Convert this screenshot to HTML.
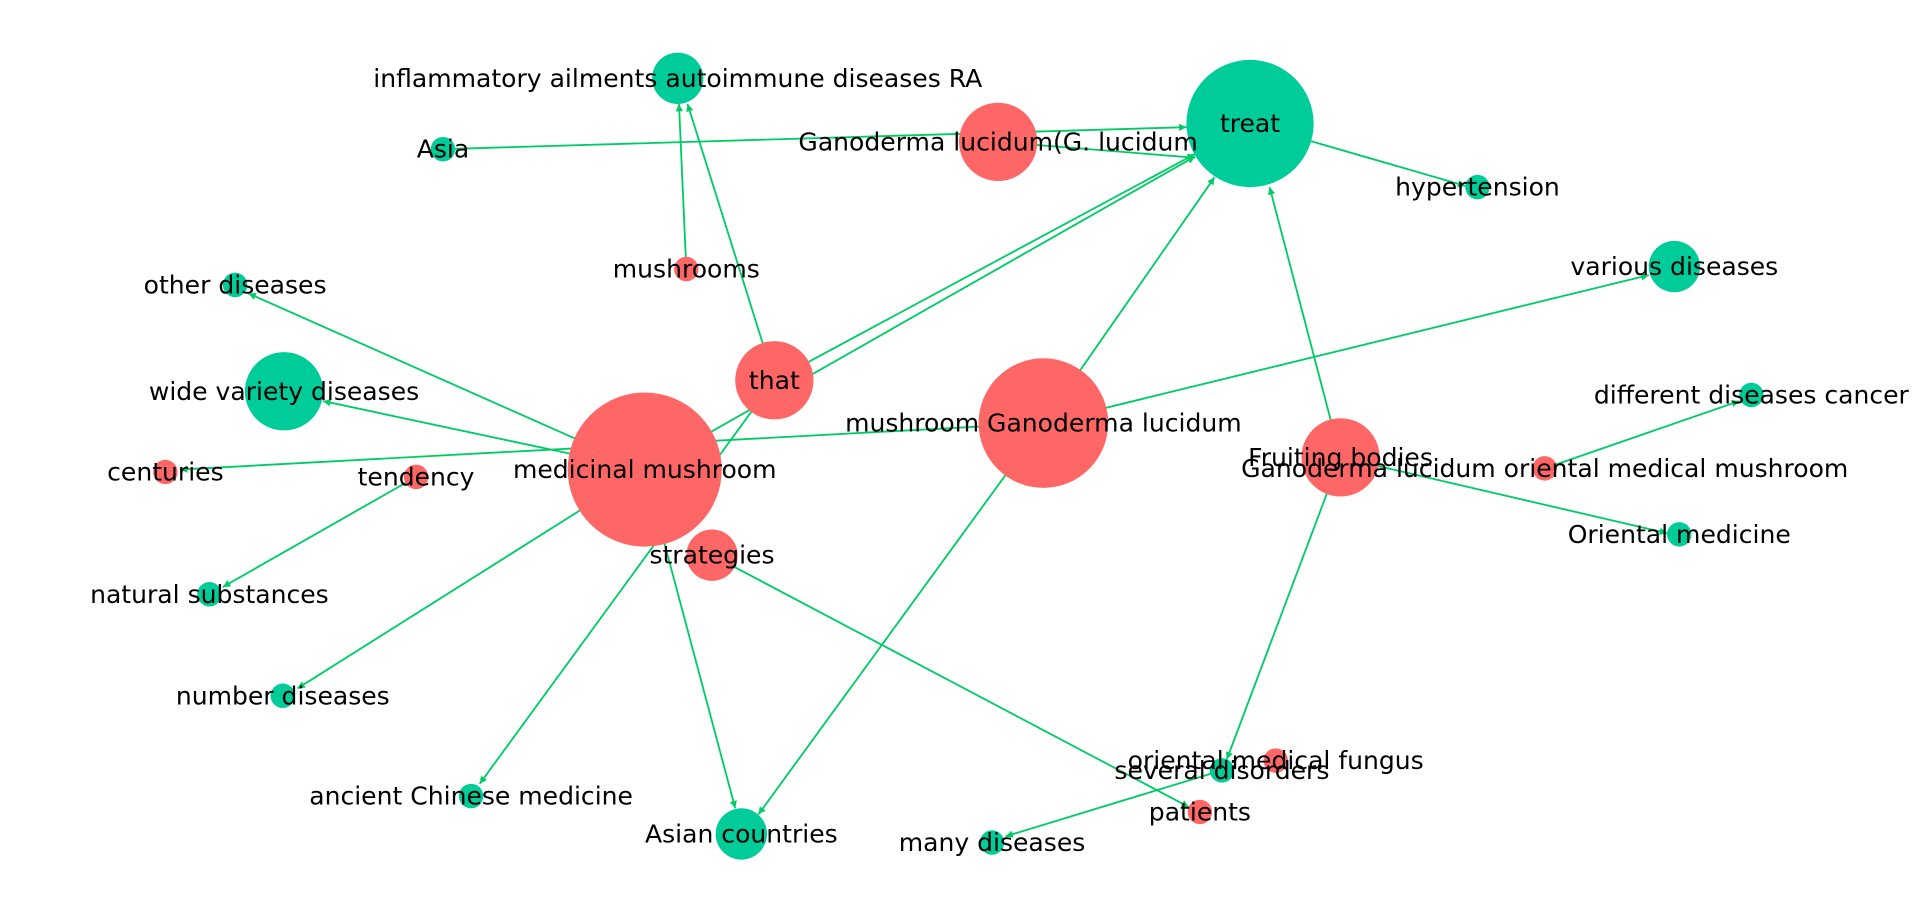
<!DOCTYPE html>
<html><head><meta charset="utf-8"><style>
html,body{margin:0;padding:0;background:#fff;width:1918px;height:922px;overflow:hidden}
svg text{font-family:"DejaVu Sans","Liberation Sans",sans-serif;font-size:20.5px;fill:#000;text-anchor:middle;dominant-baseline:central}
</style></head><body>
<svg width="1918" height="922" viewBox="0 0 1568 754" xmlns="http://www.w3.org/2000/svg">
<defs><marker id="a" viewBox="0 0 10 10" refX="10" refY="5" markerWidth="8" markerHeight="6" orient="auto" markerUnits="userSpaceOnUse"><path d="M0,0L10,5L0,10z" fill="#00cc66"/></marker></defs>
<g stroke="#00cc66" stroke-width="1.5" fill="none" marker-end="url(#a)">
<line x1="362" y1="122" x2="970" y2="104"/>
<line x1="816" y1="116" x2="977" y2="129"/>
<line x1="561" y1="220" x2="555" y2="85"/>
<line x1="633" y1="311" x2="562" y2="85"/>
<line x1="633" y1="311" x2="977" y2="126"/>
<line x1="527" y1="384" x2="977" y2="128"/>
<line x1="853" y1="346" x2="993" y2="145"/>
<line x1="1096" y1="374" x2="1038" y2="153"/>
<line x1="1022" y1="101" x2="1198" y2="152"/>
<line x1="853" y1="346" x2="1348" y2="225"/>
<line x1="527" y1="384" x2="203" y2="240"/>
<line x1="527" y1="384" x2="264" y2="328"/>
<line x1="853" y1="346" x2="147" y2="384"/>
<line x1="340" y1="390" x2="182" y2="480"/>
<line x1="527" y1="384" x2="243" y2="563"/>
<line x1="633" y1="311" x2="392" y2="641"/>
<line x1="527" y1="384" x2="601" y2="661"/>
<line x1="853" y1="346" x2="620" y2="666"/>
<line x1="582" y1="454" x2="972" y2="660"/>
<line x1="1096" y1="374" x2="1003" y2="621"/>
<line x1="999" y1="630" x2="822" y2="684"/>
<line x1="1263" y1="383" x2="1422" y2="328"/>
<line x1="1096" y1="374" x2="1363" y2="436"/>
</g>
<g>
<circle cx="1022" cy="101" r="52" fill="#00cc99"/>
<circle cx="554" cy="64" r="21" fill="#00cc99"/>
<circle cx="362" cy="122" r="10" fill="#00cc99"/>
<circle cx="816" cy="116" r="32" fill="#ff6666"/>
<circle cx="1208" cy="153" r="10" fill="#00cc99"/>
<circle cx="561" cy="220" r="10" fill="#ff6666"/>
<circle cx="192" cy="233" r="10" fill="#00cc99"/>
<circle cx="1369" cy="218" r="21" fill="#00cc99"/>
<circle cx="633" cy="311" r="32" fill="#ff6666"/>
<circle cx="232" cy="320" r="32" fill="#00cc99"/>
<circle cx="527" cy="384" r="63" fill="#ff6666"/>
<circle cx="853" cy="346" r="53" fill="#ff6666"/>
<circle cx="1432" cy="323" r="10" fill="#00cc99"/>
<circle cx="1096" cy="374" r="32" fill="#ff6666"/>
<circle cx="1263" cy="383" r="10" fill="#ff6666"/>
<circle cx="135" cy="386" r="10" fill="#ff6666"/>
<circle cx="340" cy="390" r="10" fill="#ff6666"/>
<circle cx="1373" cy="437" r="10" fill="#00cc99"/>
<circle cx="582" cy="454" r="21" fill="#ff6666"/>
<circle cx="171" cy="486" r="10" fill="#00cc99"/>
<circle cx="231" cy="569" r="10" fill="#00cc99"/>
<circle cx="1043" cy="622" r="10" fill="#ff6666"/>
<circle cx="999" cy="630" r="10" fill="#00cc99"/>
<circle cx="385" cy="651" r="10" fill="#00cc99"/>
<circle cx="981" cy="664" r="10" fill="#ff6666"/>
<circle cx="606" cy="682" r="21" fill="#00cc99"/>
<circle cx="811" cy="689" r="10" fill="#00cc99"/>
</g>
<g>
<text x="1022" y="101">treat</text>
<text x="554" y="64">inflammatory ailments autoimmune diseases RA</text>
<text x="362" y="122">Asia</text>
<text x="816" y="116">Ganoderma lucidum(G. lucidum</text>
<text x="1208" y="153">hypertension</text>
<text x="561" y="220">mushrooms</text>
<text x="192" y="233">other diseases</text>
<text x="1369" y="218">various diseases</text>
<text x="633" y="311">that</text>
<text x="232" y="320">wide variety diseases</text>
<text x="527" y="384">medicinal mushroom</text>
<text x="853" y="346">mushroom Ganoderma lucidum</text>
<text x="1432" y="323">different diseases cancer</text>
<text x="1096" y="374">Fruiting bodies</text>
<text x="1263" y="383">Ganoderma lucidum oriental medical mushroom</text>
<text x="135" y="386">centuries</text>
<text x="340" y="390">tendency</text>
<text x="1373" y="437">Oriental medicine</text>
<text x="582" y="454">strategies</text>
<text x="171" y="486">natural substances</text>
<text x="231" y="569">number diseases</text>
<text x="1043" y="622">oriental medical fungus</text>
<text x="999" y="630">several disorders</text>
<text x="385" y="651">ancient Chinese medicine</text>
<text x="981" y="664">patients</text>
<text x="606" y="682">Asian countries</text>
<text x="811" y="689">many diseases</text>
</g>
</svg>
</body></html>
